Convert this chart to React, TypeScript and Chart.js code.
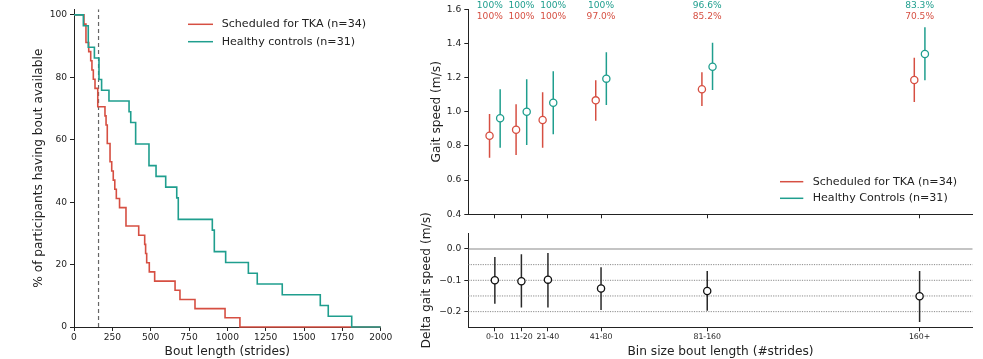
import React, { useEffect, useRef } from 'react';
import { Chart, registerables } from 'chart.js';

Chart.register(...registerables);

const FONT = '"DejaVu Sans", "Liberation Sans", sans-serif';
const RED = '#d64f42';
const TEAL = '#1f9e8e';
const INK = '#222222';
Chart.defaults.font.family = FONT;
Chart.defaults.color = INK;

// ---------- Left panel: % of participants having a bout of given length ----------
const tkaBoutX = [0, 65, 78, 96, 109, 117, 126, 137, 155, 202, 209, 217, 235, 246, 256, 266, 276, 297, 339, 422, 461, 467, 474, 491, 526, 659, 691, 789, 985, 1082, 2000];
const tkaAvail = [100, 97.06, 91.18, 88.24, 85.29, 82.35, 79.41, 76.47, 70.59, 67.65, 64.71, 58.82, 52.94, 50.0, 47.06, 44.12, 41.18, 38.24, 32.35, 29.41, 26.47, 23.53, 20.59, 17.65, 14.71, 11.76, 8.82, 5.88, 2.94, 0, 0];
const hcBoutX = [0, 61, 93, 133, 163, 180, 228, 359, 370, 402, 489, 535, 598, 670, 680, 902, 915, 989, 1137, 1195, 1358, 1606, 1658, 1811, 2000];
const hcAvail = [100, 96.55, 89.66, 86.21, 79.31, 75.86, 72.41, 68.97, 65.52, 58.62, 51.72, 48.28, 44.83, 41.38, 34.48, 31.03, 24.14, 20.69, 17.24, 13.79, 10.34, 6.90, 3.45, 0, 0];
const cutoffStrides = 160;
const leftLabels = ['Scheduled for TKA (n=34)', 'Healthy controls (n=31)'];

// ---------- Right panels: gait speed by bin ----------
const bins = ['0-10', '11-20', '21-40', '41-80', '81-160', '160+'];
const binPos = [0, 1, 2, 4, 8, 16];
const tkaMean = [0.860, 0.895, 0.952, 1.067, 1.132, 1.186];
const tkaLow = [0.731, 0.747, 0.790, 0.948, 1.034, 1.057];
const tkaHigh = [0.987, 1.044, 1.114, 1.184, 1.231, 1.317];
const hcMean = [0.962, 1.000, 1.053, 1.194, 1.264, 1.338];
const hcLow = [0.790, 0.805, 0.868, 1.040, 1.128, 1.184];
const hcHigh = [1.132, 1.190, 1.237, 1.348, 1.404, 1.495];
const tkaPct = ['100%', '100%', '100%', '97.0%', '85.2%', '70.5%'];
const hcPct = ['100%', '100%', '100%', '100%', '96.6%', '83.3%'];
const rightLabels = ['Scheduled for TKA (n=34)', 'Healthy Controls (n=31)'];
const gaitTicks = [0.4, 0.6, 0.8, 1.0, 1.2, 1.4, 1.6];

const deltaMean = [-0.100, -0.103, -0.098, -0.126, -0.134, -0.151];
const deltaLow = [-0.175, -0.187, -0.187, -0.195, -0.197, -0.233];
const deltaHigh = [-0.026, -0.017, -0.013, -0.058, -0.070, -0.070];
const deltaTicks = [-0.2, -0.1, 0.0];
const deltaDotted = [-0.05, -0.1, -0.15, -0.2];
const deltaZero = 0;

const X_MIN = -1;
const X_MAX = 18;
const GROUP_SHIFT = 0.2;

const tickFont = { family: FONT, size: 9.1 };
const binFont = { family: FONT, size: 7.8 };
const titleFont = { family: FONT, size: 12.2 };

const fmt1 = (v: number) => (v < -1e-9 ? '\u2212' : '') + Math.abs(v).toFixed(1);

function legendPlugin(id: string, items: { label: string; color: string }[], x0: number, x1: number, tx: number, y0: number, dy: number) {
  return {
    id,
    afterDraw(chart: any) {
      const ctx = chart.ctx;
      ctx.save();
      ctx.font = `11.1px ${FONT}`;
      ctx.textBaseline = 'middle';
      ctx.textAlign = 'left';
      items.forEach((it, i) => {
        const y = y0 + i * dy;
        ctx.strokeStyle = it.color;
        ctx.lineWidth = 1.5;
        ctx.beginPath();
        ctx.moveTo(x0, y);
        ctx.lineTo(x1, y);
        ctx.stroke();
        ctx.fillStyle = INK;
        ctx.fillText(it.label, tx, y);
      });
      ctx.restore();
    },
  };
}

function errSegments(pos: number[], lo: number[], hi: number[], shift: number) {
  const out: any[] = [];
  pos.forEach((p, i) => {
    out.push({ x: p + shift, y: lo[i] });
    out.push({ x: p + shift, y: hi[i] });
    out.push({ x: p + shift, y: null });
  });
  return out;
}

function hLines(values: number[]) {
  const out: any[] = [];
  values.forEach((v) => {
    out.push({ x: X_MIN, y: v });
    out.push({ x: X_MAX, y: v });
    out.push({ x: X_MAX, y: null });
  });
  return out;
}

const axisBorder = { color: INK, width: 1 };
const axisGrid = { drawOnChartArea: false, drawTicks: true, tickLength: 4, tickColor: INK, tickWidth: 1 };

function leftConfig(): any {
  return {
    type: 'line',
    data: {
      datasets: [
        { label: leftLabels[1], data: hcBoutX.map((x, i) => ({ x, y: hcAvail[i] })), borderColor: TEAL, borderWidth: 1.6, stepped: 'before', pointRadius: 0, order: 0, clip: false },
        { label: leftLabels[0], data: tkaBoutX.map((x, i) => ({ x, y: tkaAvail[i] })), borderColor: RED, borderWidth: 1.6, stepped: 'before', pointRadius: 0, order: 1, clip: false },
        { label: 'cutoff', data: [{ x: cutoffStrides, y: 0 }, { x: cutoffStrides, y: 101.8 }], borderColor: '#666666', borderWidth: 1.2, borderDash: [4, 3], pointRadius: 0, order: 2 },
      ],
    },
    options: {
      responsive: false,
      animation: false,
      devicePixelRatio: 1,
      events: [],
      layout: { padding: { left: 0, top: 9.3, right: 39.3, bottom: 0 } },
      plugins: { legend: { display: false }, tooltip: { enabled: false } },
      scales: {
        x: {
          type: 'linear', min: 0, max: 2000,
          ticks: { stepSize: 250, font: tickFont, color: INK, padding: 1.5, maxRotation: 0, autoSkip: false, includeBounds: false, callback: (v: any) => String(Math.round(Number(v))) },
          grid: axisGrid, border: axisBorder,
          title: { display: true, text: 'Bout length (strides)', font: titleFont, color: INK, padding: { top: 0, bottom: 0 } },
          afterFit: (s: any) => { s.height = 32; },
        },
        y: {
          type: 'linear', min: 0, max: 101.8,
          ticks: { stepSize: 20, font: tickFont, color: INK, padding: 3, includeBounds: false, callback: (v: any) => String(Math.round(Number(v))) },
          grid: axisGrid, border: axisBorder,
          title: { display: true, text: '% of participants having bout available', font: titleFont, color: INK, padding: { top: 31.7, bottom: 0 } },
          afterFit: (s: any) => { s.width = 74; },
        },
      },
    },
    plugins: [legendPlugin('leftLegend', [{ label: leftLabels[0], color: RED }, { label: leftLabels[1], color: TEAL }], 188, 213, 221.7, 24.3, 17.4)],
  };
}

const pctPlugin = {
  id: 'pctLabels',
  afterDraw(chart: any) {
    const ctx = chart.ctx;
    const xs = chart.scales.x;
    const ys = chart.scales.y;
    const nudge = [-0.19, 0, 0.2, 0, 0, 0];
    const top = ys.getPixelForValue(1.6);
    ctx.save();
    ctx.font = `9.1px ${FONT}`;
    ctx.textAlign = 'center';
    ctx.textBaseline = 'middle';
    binPos.forEach((p, i) => {
      const x = xs.getPixelForValue(p + nudge[i]);
      ctx.fillStyle = TEAL;
      ctx.fillText(hcPct[i], x, top - 3.3);
      ctx.fillStyle = RED;
      ctx.fillText(tkaPct[i], x, top + 6.9);
    });
    ctx.restore();
  },
};

function binXAxis(showLabels: boolean, height: number, title?: string): any {
  return {
    type: 'linear', min: X_MIN, max: X_MAX,
    afterBuildTicks: (s: any) => { s.ticks = binPos.map((v) => ({ value: v })); },
    ticks: { display: showLabels, font: binFont, color: INK, padding: 1, maxRotation: 0, autoSkip: false, callback: (_v: any, i: number) => bins[i] },
    grid: axisGrid, border: axisBorder,
    title: title ? { display: true, text: title, font: titleFont, color: INK, padding: { top: 0, bottom: 0 } } : { display: false },
    afterFit: (s: any) => { s.height = height; },
  };
}

function topRightConfig(): any {
  return {
    type: 'line',
    data: {
      datasets: [
        { label: 'tkaPts', data: binPos.map((p, i) => ({ x: p - GROUP_SHIFT, y: tkaMean[i] })), showLine: false, pointRadius: 3.6, pointBorderWidth: 1.3, pointBackgroundColor: '#ffffff', pointBorderColor: RED, order: 0 },
        { label: 'hcPts', data: binPos.map((p, i) => ({ x: p + GROUP_SHIFT, y: hcMean[i] })), showLine: false, pointRadius: 3.6, pointBorderWidth: 1.3, pointBackgroundColor: '#ffffff', pointBorderColor: TEAL, order: 0 },
        { label: 'tkaErr', data: errSegments(binPos, tkaLow, tkaHigh, -GROUP_SHIFT), borderColor: RED, borderWidth: 1.5, pointRadius: 0, spanGaps: false, order: 1 },
        { label: 'hcErr', data: errSegments(binPos, hcLow, hcHigh, GROUP_SHIFT), borderColor: TEAL, borderWidth: 1.5, pointRadius: 0, spanGaps: false, order: 1 },
      ],
    },
    options: {
      responsive: false,
      animation: false,
      devicePixelRatio: 1,
      events: [],
      layout: { padding: { left: 0, top: 9.3, right: 10.3, bottom: 0 } },
      plugins: { legend: { display: false }, tooltip: { enabled: false } },
      scales: {
        x: binXAxis(false, 10.7),
        y: {
          type: 'linear', min: 0.4, max: 1.6,
          afterBuildTicks: (s: any) => { s.ticks = gaitTicks.map((v) => ({ value: v })); },
          ticks: { font: tickFont, color: INK, padding: 3, callback: (v: any) => fmt1(Number(v)) },
          grid: axisGrid, border: axisBorder,
          title: { display: true, text: 'Gait speed (m/s)', font: titleFont, color: INK, padding: { top: 14.4, bottom: 0 } },
          afterFit: (s: any) => { s.width = 53.3; },
        },
      },
    },
    plugins: [pctPlugin, legendPlugin('rightLegend', [{ label: rightLabels[0], color: RED }, { label: rightLabels[1], color: TEAL }], 365, 388.3, 397.7, 181.7, 16.6)],
  };
}

function bottomRightConfig(): any {
  return {
    type: 'line',
    data: {
      datasets: [
        { label: 'delta', data: binPos.map((p, i) => ({ x: p, y: deltaMean[i] })), showLine: false, pointRadius: 3.6, pointBorderWidth: 1.3, pointBackgroundColor: '#ffffff', pointBorderColor: '#111111', order: 0 },
        { label: 'deltaErr', data: errSegments(binPos, deltaLow, deltaHigh, 0), borderColor: '#2a2a2a', borderWidth: 1.5, pointRadius: 0, spanGaps: false, order: 1 },
        { label: 'dotted', data: hLines(deltaDotted), borderColor: '#8a8a8a', borderWidth: 1, borderDash: [1.2, 1.2], pointRadius: 0, spanGaps: false, order: 2 },
        { label: 'zero', data: hLines([deltaZero]), borderColor: '#8a8a8a', borderWidth: 1.1, pointRadius: 0, spanGaps: false, order: 2 },
      ],
    },
    options: {
      responsive: false,
      animation: false,
      devicePixelRatio: 1,
      events: [],
      layout: { padding: { left: 0, top: 38.3, right: 10.3, bottom: 0 } },
      plugins: { legend: { display: false }, tooltip: { enabled: false } },
      scales: {
        x: binXAxis(true, 31.7, 'Bin size bout length (#strides)'),
        y: {
          type: 'linear', min: -0.25, max: 0.05,
          afterBuildTicks: (s: any) => { s.ticks = deltaTicks.map((v) => ({ value: v })); },
          ticks: { font: tickFont, color: INK, padding: 3, callback: (v: any) => fmt1(Number(v)) },
          grid: axisGrid, border: axisBorder,
          title: { display: true, text: 'Delta gait speed (m/s)', font: titleFont, color: INK, padding: { top: 4.4, bottom: 0 } },
          afterFit: (s: any) => { s.width = 53.3; },
        },
      },
    },
  };
}

function ChartCanvas(props: { make: () => any; left: number; top: number; width: number; height: number }) {
  const ref = useRef<HTMLCanvasElement | null>(null);
  useEffect(() => {
    if (!ref.current) return;
    const chart = new Chart(ref.current, props.make());
    return () => chart.destroy();
  }, []);
  return (
    <canvas
      ref={ref}
      width={props.width}
      height={props.height}
      style={{ position: 'absolute', left: props.left, top: props.top, width: props.width, height: props.height }}
    />
  );
}

export default function App() {
  return (
    <div style={{ position: 'absolute', left: 0, top: 0, width: 983, height: 359, background: '#ffffff', overflow: 'hidden' }}>
      <ChartCanvas make={leftConfig} left={0} top={0} width={420} height={359} />
      <ChartCanvas make={topRightConfig} left={415} top={0} width={568} height={225} />
      <ChartCanvas make={bottomRightConfig} left={415} top={195} width={568} height={164} />
    </div>
  );
}
